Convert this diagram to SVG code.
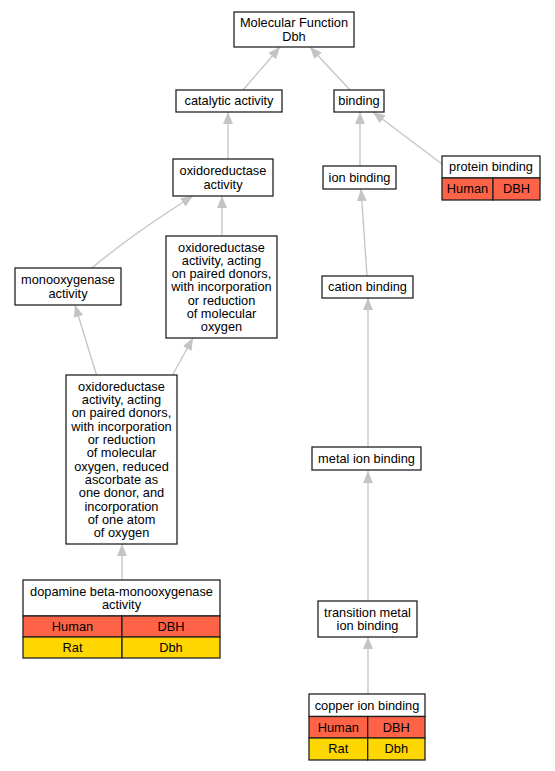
<svg xmlns="http://www.w3.org/2000/svg" width="555" height="771" viewBox="0 0 555 771">
<style>
  text { font-family: "Liberation Sans", Arial, sans-serif; font-size: 12.8px; fill: #000; text-anchor: middle; }
  .box { fill: #fff; stroke: #222; stroke-width: 1.3; }
  .hum { fill: #FF6347; stroke: #222; stroke-width: 1.3; }
  .rat { fill: #FFD700; stroke: #222; stroke-width: 1.3; }
  .edge { fill: none; stroke: #c4c4c4; stroke-width: 1.3; marker-end: url(#arr); }
</style>
<defs>
  <marker id="arr" markerUnits="userSpaceOnUse" markerWidth="13" markerHeight="11" refX="12" refY="5" orient="auto" viewBox="0 0 13 11">
    <path d="M0,0 L12,5 L0,10 z" fill="#c4c4c4"/>
  </marker>
</defs>
<rect width="555" height="771" fill="#fff"/>
<g id="edges">
  <path class="edge" d="M243,90 L280,47"/>
  <path class="edge" d="M350,90 L310,47"/>
  <path class="edge" d="M228,159 L228,112"/>
  <path class="edge" d="M92,268 C118,246 150,223 193,196"/>
  <path class="edge" d="M222,236 L222,196"/>
  <path class="edge" d="M96.5,375 L75,305"/>
  <path class="edge" d="M172.5,375 L193,338"/>
  <path class="edge" d="M122,580 L122,544"/>
  <path class="edge" d="M360,166 L360,112"/>
  <path class="edge" d="M442,164 L373,112"/>
  <path class="edge" d="M367,276 L361,189"/>
  <path class="edge" d="M368,447 L368,298"/>
  <path class="edge" d="M368,601 L368,471"/>
  <path class="edge" d="M368,694 L368,637"/>
</g>
<g id="n_mf">
  <rect class="box" x="234" y="12" width="120" height="35"/>
  <text x="294" y="27.3">Molecular Function</text>
  <text x="294" y="40.5">Dbh</text>
</g>
<g id="n_catalytic">
  <rect class="box" x="176" y="90" width="106" height="22"/>
  <text x="229" y="105.4">catalytic activity</text>
</g>
<g id="n_binding">
  <rect class="box" x="334" y="90" width="50" height="22"/>
  <text x="359" y="105.4">binding</text>
</g>
<g id="n_oxido">
  <rect class="box" x="173" y="159" width="100" height="37"/>
  <text x="223" y="175.3">oxidoreductase</text>
  <text x="223" y="188.6">activity</text>
</g>
<g id="n_mono">
  <rect class="box" x="15" y="268" width="106" height="37"/>
  <text x="68" y="284.3">monooxygenase</text>
  <text x="68" y="297.6">activity</text>
</g>
<g id="n_paired">
  <rect class="box" x="166" y="236" width="111" height="102"/>
  <text x="221.5" y="251.5">oxidoreductase</text>
  <text x="221.5" y="264.8">activity, acting</text>
  <text x="221.5" y="278.1">on paired donors,</text>
  <text x="221.5" y="291.4">with incorporation</text>
  <text x="221.5" y="304.7">or reduction</text>
  <text x="221.5" y="318">of molecular</text>
  <text x="221.5" y="331.3">oxygen</text>
</g>
<g id="n_big">
  <rect class="box" x="66" y="375" width="111" height="169"/>
  <text x="121.5" y="390.8">oxidoreductase</text>
  <text x="121.5" y="404.1">activity, acting</text>
  <text x="121.5" y="417.4">on paired donors,</text>
  <text x="121.5" y="430.7">with incorporation</text>
  <text x="121.5" y="444">or reduction</text>
  <text x="121.5" y="457.3">of molecular</text>
  <text x="121.5" y="470.6">oxygen, reduced</text>
  <text x="121.5" y="483.9">ascorbate as</text>
  <text x="121.5" y="497.2">one donor, and</text>
  <text x="121.5" y="510.5">incorporation</text>
  <text x="121.5" y="523.8">of one atom</text>
  <text x="121.5" y="537.1">of oxygen</text>
</g>
<g id="n_dopamine">
  <rect class="box" x="23" y="580" width="197" height="36"/>
  <text x="121.5" y="595.8">dopamine beta-monooxygenase</text>
  <text x="121.5" y="609.1">activity</text>
  <rect class="hum" x="23" y="616" width="99" height="21"/>
  <rect class="hum" x="122" y="616" width="98" height="21"/>
  <rect class="rat" x="23" y="637" width="99" height="21"/>
  <rect class="rat" x="122" y="637" width="98" height="21"/>
  <text x="72.5" y="630.9">Human</text>
  <text x="171" y="630.9">DBH</text>
  <text x="72.5" y="651.9">Rat</text>
  <text x="171" y="651.9">Dbh</text>
</g>
<g id="n_ion">
  <rect class="box" x="323" y="166" width="73" height="23"/>
  <text x="359.5" y="181.9">ion binding</text>
</g>
<g id="n_protein">
  <rect class="box" x="442" y="156" width="98" height="22"/>
  <text x="491" y="171.4">protein binding</text>
  <rect class="hum" x="442" y="178" width="51" height="22"/>
  <rect class="hum" x="493" y="178" width="47" height="22"/>
  <text x="467.5" y="193.4">Human</text>
  <text x="516.5" y="193.4">DBH</text>
</g>
<g id="n_cation">
  <rect class="box" x="322" y="276" width="91" height="22"/>
  <text x="367.5" y="291.4">cation binding</text>
</g>
<g id="n_metal">
  <rect class="box" x="312" y="447" width="109" height="23"/>
  <text x="366.5" y="462.9">metal ion binding</text>
</g>
<g id="n_transition">
  <rect class="box" x="318" y="601" width="99" height="36"/>
  <text x="367.5" y="616.8">transition metal</text>
  <text x="367.5" y="630.1">ion binding</text>
</g>
<g id="n_copper">
  <rect class="box" x="309" y="694" width="116" height="22.5"/>
  <text x="367" y="709.7">copper ion binding</text>
  <rect class="hum" x="309" y="716.5" width="58.7" height="21.5"/>
  <rect class="hum" x="367.7" y="716.5" width="57.3" height="21.5"/>
  <rect class="rat" x="309" y="738" width="58.7" height="22"/>
  <rect class="rat" x="367.7" y="738" width="57.3" height="22"/>
  <text x="338.3" y="731.7">Human</text>
  <text x="396.3" y="731.7">DBH</text>
  <text x="338.3" y="753.4">Rat</text>
  <text x="396.3" y="753.4">Dbh</text>
</g>
</svg>
